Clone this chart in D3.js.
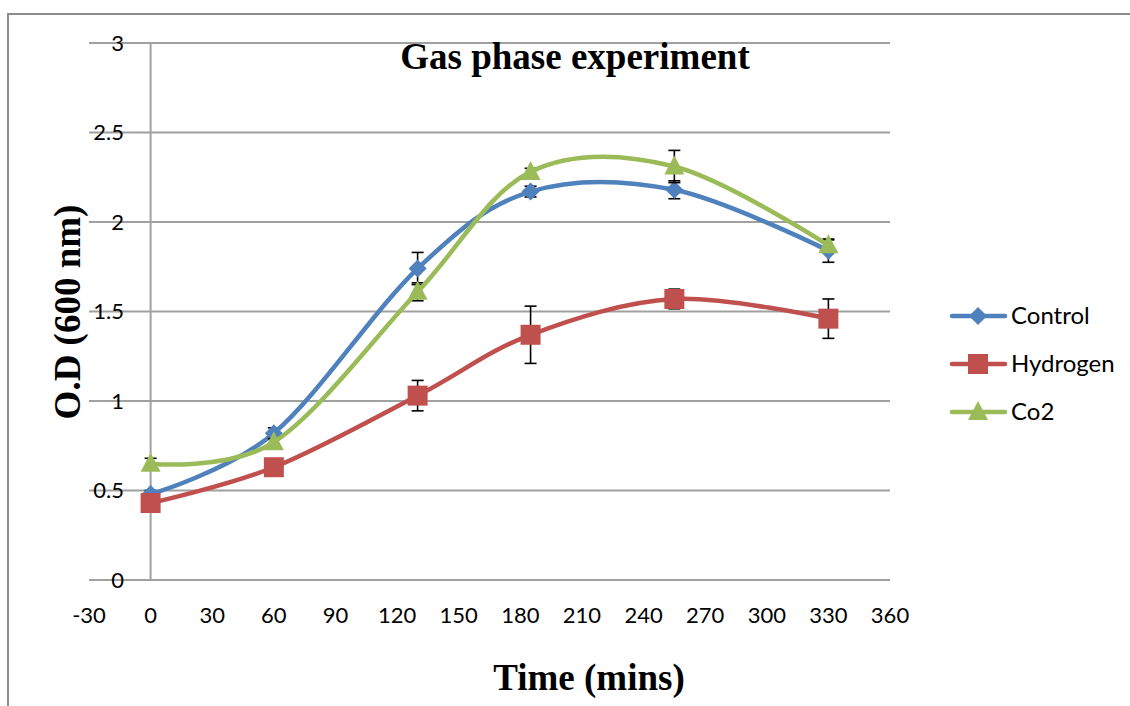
<!DOCTYPE html>
<html>
<head>
<meta charset="utf-8">
<script src="https://cdn.jsdelivr.net/npm/d3@7"></script>
<style>
  html, body { margin: 0; padding: 0; background: #fff; }
  svg { display: block; }
</style>
</head>
<body>
<svg id="chart" width="1130" height="706"></svg>
<script>
// Sampling times (mins) and optical density readings per gas condition
const times = [0, 60, 130, 185, 255, 330];
const controlOD = [0.48, 0.82, 1.74, 2.17, 2.18, 1.84];
const hydrogenOD = [0.43, 0.63, 1.03, 1.37, 1.57, 1.46];
const co2OD = [0.65, 0.77, 1.61, 2.28, 2.31, 1.87];
// Error bar half-widths
const controlErr = [0.02, 0.03, 0.09, 0.03, 0.05, 0.065];
const hydrogenErr = [0.02, 0.02, 0.085, 0.16, 0.055, 0.11];
const co2Err = [0.03, 0.02, 0.05, 0.02, 0.09, 0.03];
const seriesNames = ["Control", "Hydrogen", "Co2"];
const xTicks = [-30, 0, 30, 60, 90, 120, 150, 180, 210, 240, 270, 300, 330, 360];
const yTicks = [0, 0.5, 1, 1.5, 2, 2.5, 3];

const colors = { Control: "#4F81BD", Hydrogen: "#C0504D", Co2: "#9BBB59" };
const series = [
  { name: "Control", values: controlOD, err: controlErr, marker: "diamond" },
  { name: "Hydrogen", values: hydrogenOD, err: hydrogenErr, marker: "square" },
  { name: "Co2", values: co2OD, err: co2Err, marker: "triangle" }
];

const svg = d3.select("#chart");
const x = d3.scaleLinear().domain([-30, 360]).range([89, 890]);
const y = d3.scaleLinear().domain([0, 3]).range([580, 43]);
const gridColor = "#A0A0A0";
const tickFont = "Lato, 'Open Sans', sans-serif";
const titleFont = "'Liberation Serif', 'DejaVu Serif', serif";

// Outer chart frame (left and top edges)
svg.append("path")
  .attr("d", "M8,706 L8,14 L1130,14")
  .attr("fill", "none").attr("stroke", "#8C8C8C").attr("stroke-width", 2);

// Horizontal gridlines
svg.append("g").selectAll("line").data(yTicks).join("line")
  .attr("x1", x(-30)).attr("x2", x(360))
  .attr("y1", d => y(d)).attr("y2", d => y(d))
  .attr("stroke", gridColor).attr("stroke-width", 2);

// Vertical value axis crossing at x = 0
svg.append("line")
  .attr("x1", x(0)).attr("x2", x(0)).attr("y1", y(3)).attr("y2", y(0))
  .attr("stroke", gridColor).attr("stroke-width", 2);

// Y tick labels
svg.append("g").selectAll("text").data(yTicks).join("text")
  .attr("x", 124).attr("y", d => y(d)).attr("dy", "0.35em")
  .attr("text-anchor", "end")
  .attr("font-family", tickFont).attr("font-size", 22).attr("fill", "#000")
  .text(d => d);

// X tick labels
svg.append("g").selectAll("text").data(xTicks).join("text")
  .attr("x", d => x(d)).attr("y", 615).attr("dy", "0.35em")
  .attr("text-anchor", "middle")
  .attr("font-family", tickFont).attr("font-size", 22).attr("fill", "#000")
  .text(d => d);

// Titles
svg.append("text")
  .attr("x", 575).attr("y", 69).attr("text-anchor", "middle")
  .attr("font-family", titleFont).attr("font-weight", "bold").attr("font-size", 37)
  .text("Gas phase experiment");
svg.append("text")
  .attr("x", 589).attr("y", 690).attr("text-anchor", "middle")
  .attr("font-family", titleFont).attr("font-weight", "bold").attr("font-size", 37)
  .text("Time (mins)");
svg.append("text")
  .attr("transform", "translate(80,312) rotate(-90)").attr("text-anchor", "middle")
  .attr("font-family", titleFont).attr("font-weight", "bold").attr("font-size", 37)
  .text("O.D (600 nm)");

// Marker shapes
function markerPath(type) {
  if (type === "diamond") return "M0,-9 L9,0 L0,9 L-9,0 Z";
  if (type === "square") return "M-10,-10 L10,-10 L10,10 L-10,10 Z";
  return "M0,-11 L10,8 L-10,8 Z";
}

const line = d3.line().x(d => x(d.t)).y(d => y(d.v)).curve(d3.curveCardinal.tension(0));

series.forEach(s => {
  const pts = times.map((t, i) => ({ t, v: s.values[i], e: s.err[i] }));
  const g = svg.append("g");
  // error bars
  const eb = g.append("g").attr("stroke", "#000").attr("stroke-width", 1.6);
  pts.forEach(p => {
    const cx = x(p.t), y1 = y(p.v + p.e), y2 = y(p.v - p.e);
    eb.append("line").attr("x1", cx).attr("x2", cx).attr("y1", y1).attr("y2", y2);
    eb.append("line").attr("x1", cx - 6).attr("x2", cx + 6).attr("y1", y1).attr("y2", y1);
    eb.append("line").attr("x1", cx - 6).attr("x2", cx + 6).attr("y1", y2).attr("y2", y2);
  });
  g.append("path").datum(pts).attr("d", line)
    .attr("fill", "none").attr("stroke", colors[s.name]).attr("stroke-width", 4.5)
    .attr("stroke-linecap", "round");
  g.append("g").selectAll("path").data(pts).join("path")
    .attr("transform", d => `translate(${x(d.t)},${y(d.v)})`)
    .attr("d", markerPath(s.marker)).attr("fill", colors[s.name]);
});

// Legend
const legend = svg.append("g");
series.forEach((s, i) => {
  const ly = 316 + i * 48;
  legend.append("line").attr("x1", 952).attr("x2", 1005).attr("y1", ly).attr("y2", ly)
    .attr("stroke", colors[s.name]).attr("stroke-width", 4.5).attr("stroke-linecap", "round");
  legend.append("path").attr("transform", `translate(978,${ly})`)
    .attr("d", markerPath(s.marker)).attr("fill", colors[s.name]);
  legend.append("text").attr("x", 1011).attr("y", ly).attr("dy", "0.35em")
    .attr("font-family", tickFont).attr("font-size", 24).attr("fill", "#000")
    .text(s.name);
});
</script>
</body>
</html>
